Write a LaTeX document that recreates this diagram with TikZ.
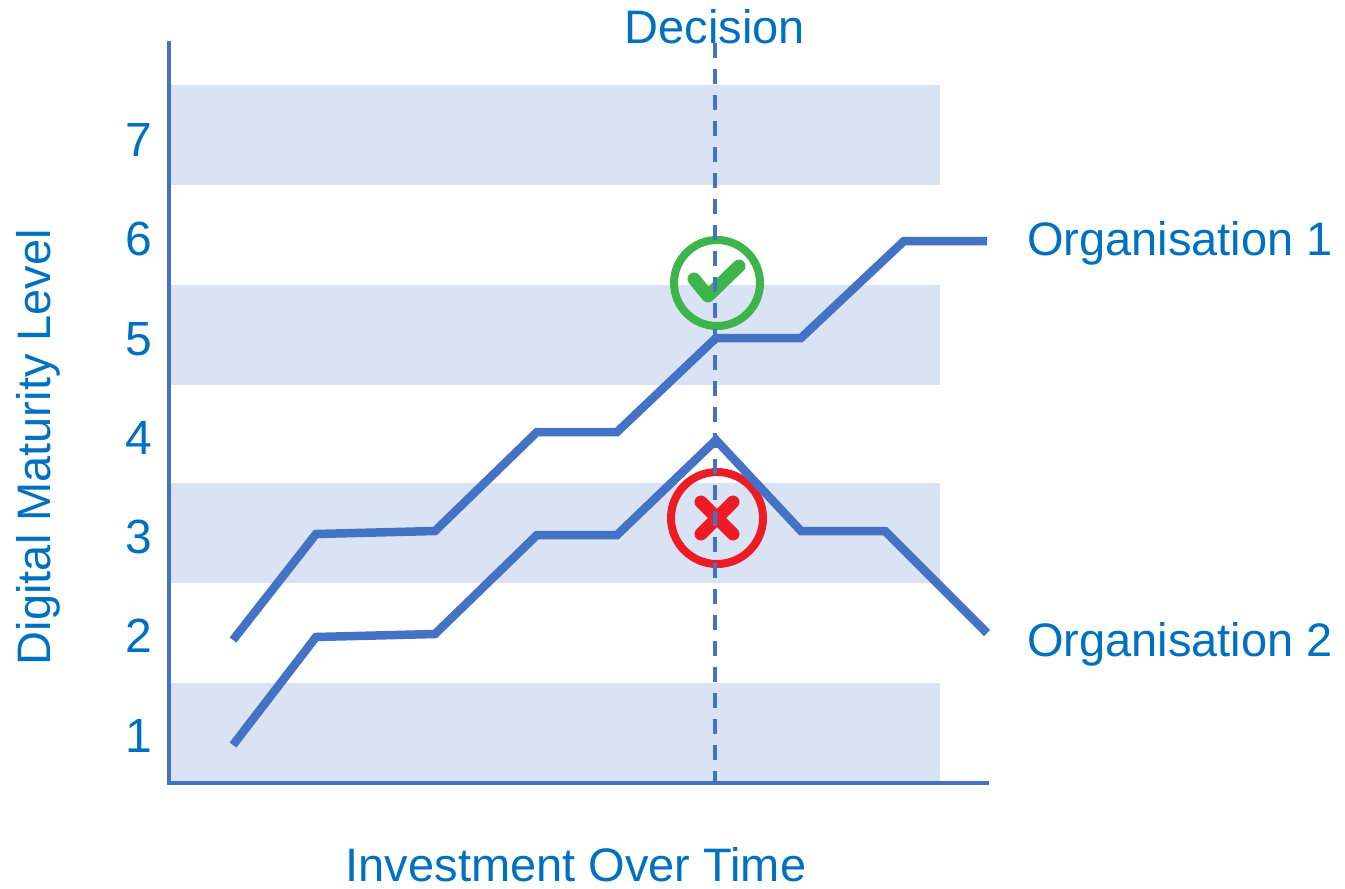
\documentclass[tikz,border=0pt]{standalone}
\usepackage{fontspec}
\setmainfont{Liberation Sans}
\definecolor{txtblue}{HTML}{0070C0}
\definecolor{lineblue}{HTML}{4472C4}
\definecolor{bandblue}{HTML}{DAE3F3}
\definecolor{okgreen}{HTML}{3DB54A}
\definecolor{badred}{HTML}{ED1C24}
\begin{document}
\begin{tikzpicture}[x=1pt,y=-1pt,
  lbl/.style={text=txtblue,font=\fontsize{47}{47}\selectfont,inner sep=0pt},
  numlbl/.style={text=txtblue,font=\fontsize{48}{48}\selectfont,inner sep=0pt},
  band/.style={fill=bandblue,draw=none},
  axisline/.style={draw=lineblue,line width=4pt},
  orgline/.style={draw=lineblue,line width=8.5pt,line join=miter},
  decline/.style={draw=lineblue,line width=3.5pt,dash pattern=on 15pt off 11pt},
  ring/.style={line width=8pt},
  markstroke/.style={line width=13pt,line cap=round,line join=round}]
\useasboundingbox (0,0) rectangle (1345,889);
% bands
\foreach \t in {85,285,483,683}{
  \fill[band] (171,\t) rectangle (940,\t+100);
}
% axes
\coordinate (top) at (169,43);
\coordinate (orig) at (169,783);
\coordinate (xend) at (987,783);
\draw[axisline,line cap=rect] (top) -- (orig) -- (xend);
% level numbers
\foreach \n/\y in {7/156,6/255,5/355,4/454,3/553,2/652,1/752}{
  \node[numlbl,anchor=base] (lev\n) at (139,\y) {\n};
}
% check
\draw[ring,draw=okgreen] (717,283) circle (43);
\coordinate (c1) at (694,279);
\coordinate (c2) at (708,296);
\coordinate (c3) at (739,266);
\draw[okgreen,markstroke] (c1)--(c2)--(c3);
% cross
\draw[ring,draw=badred] (717,518) circle (46);
\coordinate (x1) at (701,502);
\coordinate (x2) at (733,534);
\coordinate (x3) at (733,502);
\coordinate (x4) at (701,534);
\draw[badred,markstroke] (x1)--(x2);
\draw[badred,markstroke] (x3)--(x4);
% decision line
\coordinate (dtop) at (715,43);
\coordinate (dbot) at (715,783);
\draw[decline] (dtop) -- (dbot);
\node[lbl,anchor=base] (decision) at (715,43) {Decision};
% organisation 1
\coordinate (a1) at (233,640);
\coordinate (a2) at (316,534);
\coordinate (a3) at (435,531);
\coordinate (a4) at (537,432);
\coordinate (a5) at (617,432);
\coordinate (a6) at (716,338);
\coordinate (a7) at (801,338);
\coordinate (a8) at (904,241);
\coordinate (a9) at (987,241);
\draw[orgline] (a1)--(a2)--(a3)--(a4)--(a5)--(a6)--(a7)--(a8)--(a9);
% organisation 2
\coordinate (b1) at (233,745);
\coordinate (b2) at (316,637);
\coordinate (b3) at (435,634);
\coordinate (b4) at (537,535);
\coordinate (b5) at (617,535);
\coordinate (b6) at (716,440);
\coordinate (b7) at (801,531);
\coordinate (b8) at (885,531);
\coordinate (b9) at (987,633);
\draw[orgline] (b1)--(b2)--(b3)--(b4)--(b5)--(b6)--(b7)--(b8)--(b9);
% labels
\node[lbl,anchor=base west] (org1) at (1027,255) {Organisation 1};
\node[lbl,anchor=base west] (org2) at (1027,656) {Organisation 2};
\node[lbl,anchor=base] (xlab) at (576,881) {Investment Over Time};
\node[lbl,rotate=90,anchor=center] (ylab) at (38,447) {Digital Maturity Level};
\end{tikzpicture}
\end{document}
